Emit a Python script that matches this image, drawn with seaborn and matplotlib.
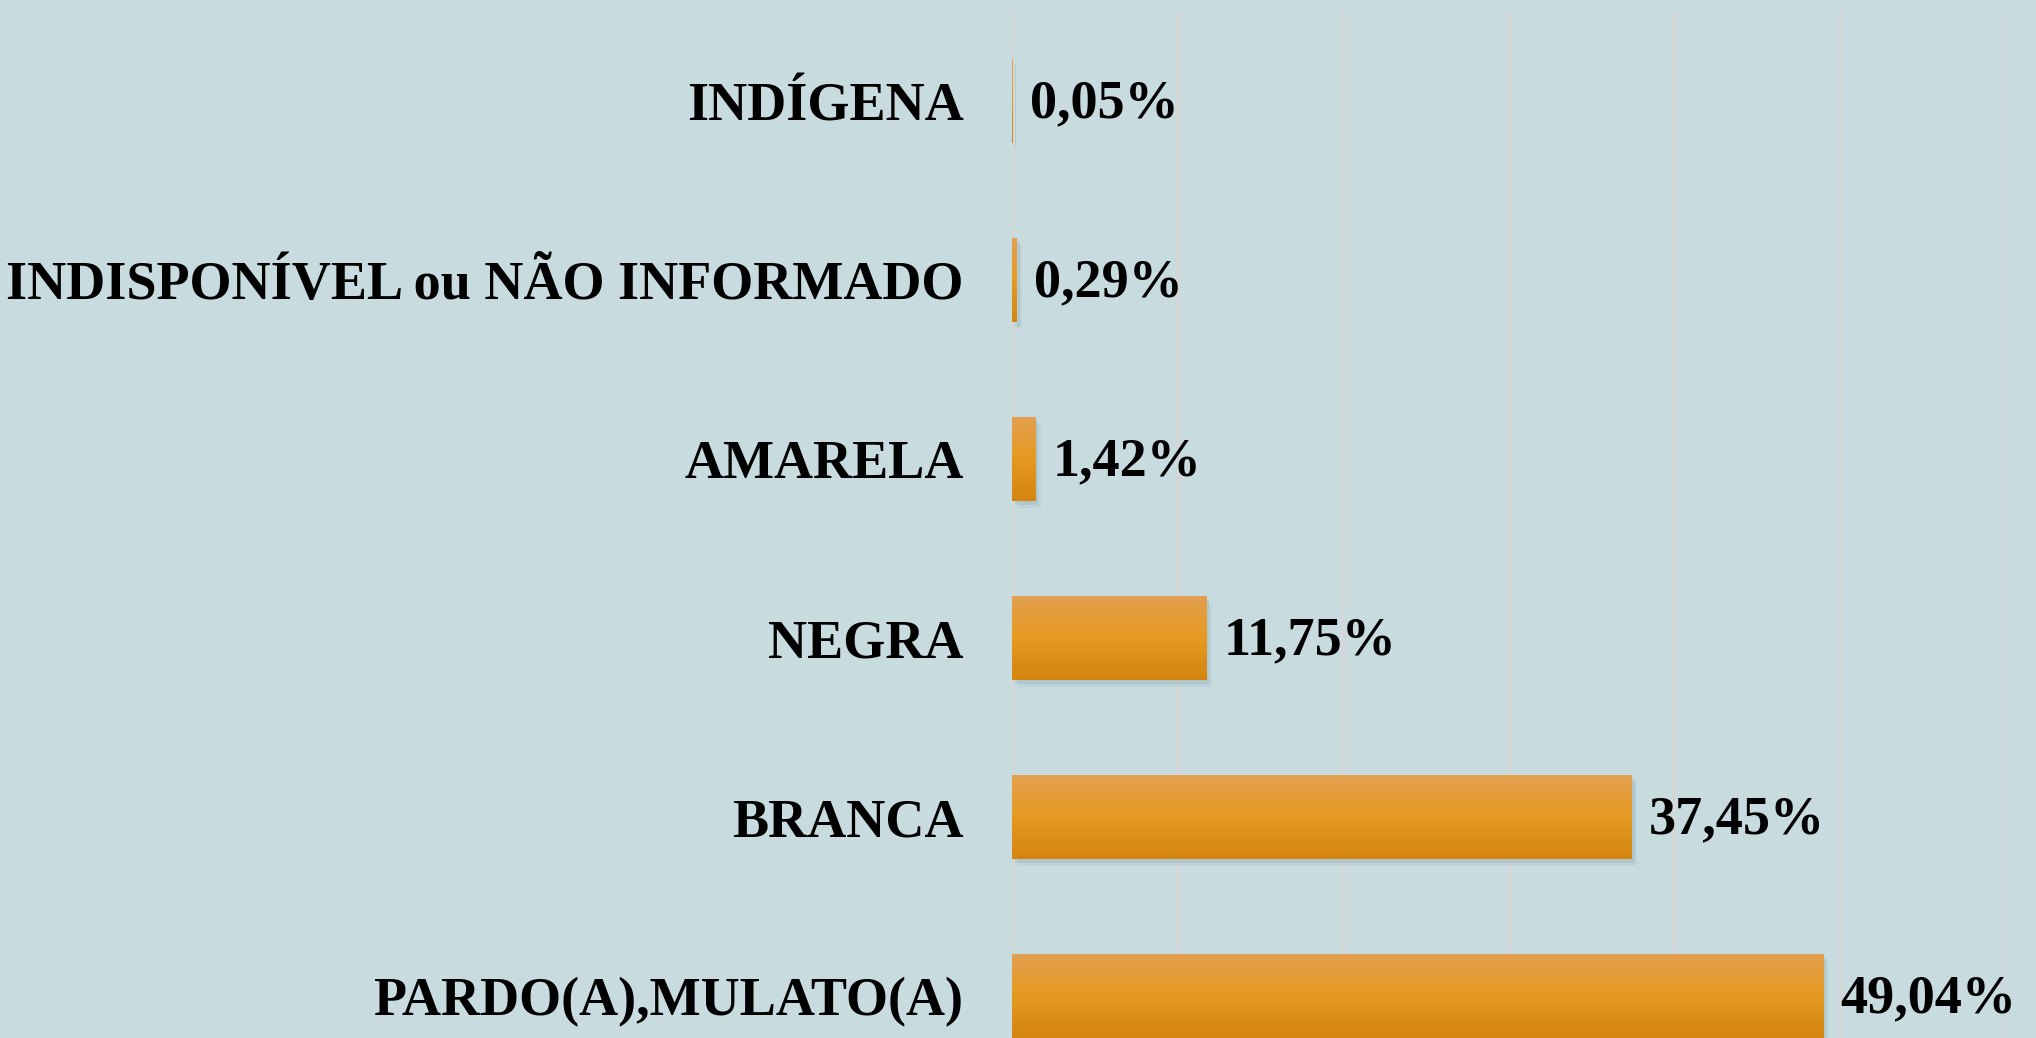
import numpy as np
import pandas as pd
import matplotlib
matplotlib.use("Agg")
import matplotlib.pyplot as plt
import matplotlib.patheffects as pe
import seaborn as sns

# Data
categories = ['INDÍGENA', 'INDISPONÍVEL ou NÃO INFORMADO', 'AMARELA',
              'NEGRA', 'BRANCA', 'PARDO(A),MULATO(A)']
values = [0.05, 0.29, 1.42, 11.75, 37.45, 49.04]
value_labels = ['0,05%', '0,29%', '1,42%', '11,75%', '37,45%', '49,04%']

bg = '#C8DCE0'
df = pd.DataFrame({'cat': categories, 'val': values})

sns.set_theme(style='white')
plt.rcParams['font.family'] = ['Liberation Serif', 'DejaVu Serif']

fig = plt.figure(figsize=(20.36, 10.38), dpi=100, facecolor=bg)
ax = fig.add_axes([1012 / 2036, 0.0, 993 / 2036, 1 - 12 / 1038])
ax.set_facecolor(bg)

sns.barplot(data=df, x='val', y='cat', orient='h', color='#E59A22',
            width=0.47, linewidth=0, edgecolor='none', ax=ax, zorder=3)

# vertical gradient on each bar, plus a soft shadow
grad = np.linspace(0, 1, 256).reshape(-1, 1)
cmap = matplotlib.colors.LinearSegmentedColormap.from_list(
    'bar', ['#E2A052', '#E69A20', '#D38510'])
for p in ax.patches:
    x0, y0 = p.get_x(), p.get_y()
    w, h = p.get_width(), p.get_height()
    p.set_path_effects([pe.SimplePatchShadow(offset=(2, -3), shadow_rgbFace='#8FAAB2', alpha=0.3),
                        pe.SimplePatchShadow(offset=(4, -5), shadow_rgbFace='#8FAAB2', alpha=0.15),
                        pe.Normal()])
    im = ax.imshow(grad, cmap=cmap, aspect='auto', extent=[x0, x0 + w, y0 + h, y0],
                   zorder=4, interpolation='bicubic')
    im.set_clip_path(p)

ax.set_xlim(0, 60)
ax.set_ylim(5.235, -0.5)
ax.set_xticks(np.arange(0, 61, 10))
ax.xaxis.grid(True, color='#D9D5D5', linewidth=2, zorder=0)
ax.set_axisbelow(True)
ax.tick_params(axis='x', labelbottom=False, length=0)
ax.tick_params(axis='y', length=0, pad=35)
ax.set_yticks(range(len(categories)))
ax.set_yticklabels(categories, fontsize=39, fontweight='bold', color='black')
ax.set_xlabel('')
ax.set_ylabel('')
for s in ax.spines.values():
    s.set_visible(False)

for i, (v, lab) in enumerate(zip(values, value_labels)):
    ax.annotate(lab, xy=(v, i), xytext=(17, -3), textcoords='offset pixels',
                ha='left', va='center', fontsize=39, fontweight='bold',
                color='black', zorder=5)

fig.savefig('out.png', dpi=100, facecolor=bg)
